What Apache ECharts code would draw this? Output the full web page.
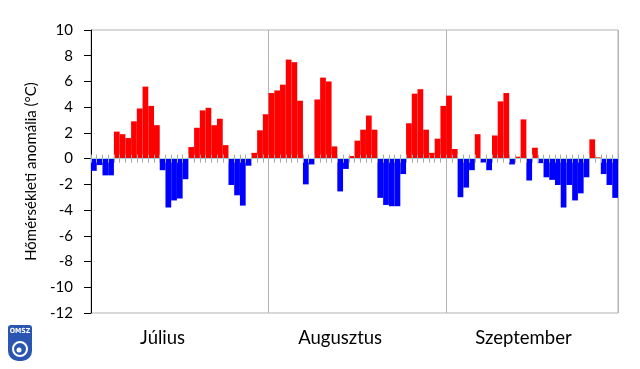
<!DOCTYPE html>
<html><head><meta charset="utf-8">
<script src="https://cdn.jsdelivr.net/npm/echarts@6/dist/echarts.min.js"></script>
<style>html,body{margin:0;padding:0;background:#fff}#c{width:640px;height:369px}</style>
</head><body><div id="c"></div>
<script>
// ---- data ----
const months = ['Július', 'Augusztus', 'Szeptember'];
const monthDays = [31, 31, 30];
const monthLabelDay = [12, 12, 13];          // day index within the month where the month name sits
const julyAnom = [-0.95, -0.5, -1.3, -1.3, 2.1, 1.9, 1.6, 2.9, 3.9, 5.6, 4.1, 2.6, -0.9, -3.8, -3.25, -3.1,
  -1.6, 0.9, 2.4, 3.75, 3.95, 2.6, 3.1, 1.05, -2.05, -2.85, -3.65, -0.55, 0.45, 2.2, 3.45];
const augAnom = [5.1, 5.3, 5.75, 7.7, 7.5, 4.5, -2.0, -0.45, 4.6, 6.3, 6.0, 0.95, -2.55, -0.8, 0.2, 1.4,
  2.25, 3.35, 2.25, -3.05, -3.6, -3.7, -3.7, -1.2, 2.75, 5.05, 5.4, 2.25, 0.45, 1.55, 4.1];
const sepAnom = [4.9, 0.75, -3.0, -2.25, -0.9, 1.9, -0.3, -0.9, 1.8, 4.45, 5.1, -0.45, 0.15, 3.05, -1.7,
  0.85, -0.35, -1.45, -1.65, -2.05, -3.8, -2.05, -3.25, -2.7, -1.45, 1.5, 0.1, -1.2, -2.05, -3.05];
const yMin = -12, yMax = 10, yStep = 2;
const yName = 'Hőmérsékleti anomália (°C)';
const logoText = 'OMSZ';

// ---- build ----
const monthData = [julyAnom, augAnom, sepAnom];
const categories = [];
const values = [];
const labelAt = {};
const monthStarts = [];
months.forEach((m, mi) => {
  monthStarts.push(categories.length);
  labelAt[categories.length + monthLabelDay[mi]] = m;
  for (let d = 0; d < monthDays[mi]; d++) {
    categories.push(m + ' ' + (d + 1));
    values.push(monthData[mi][d]);
  }
});
const RED = '#ff0000', BLUE = '#0000ff';
const FONT = 'Lato';

const chart = echarts.init(document.getElementById('c'), null, {renderer: 'canvas'});
chart.setOption({
  animation: false,
  backgroundColor: '#fff',
  textStyle: {fontFamily: FONT},
  grid: {left: 91, right: 22, top: 30, bottom: 56, show: true, borderColor: '#b3b3b3', borderWidth: 1},
  xAxis: [
    { // zero line with downward ticks
      type: 'category', data: categories, position: 'bottom', z: 5,
      axisLine: {onZero: true, onZeroAxisIndex: 0, lineStyle: {color: '#a9d3dc', width: 1}},
      axisTick: {show: true, interval: 0, length: 4, lineStyle: {color: '#a8a8a8'}},
      axisLabel: {show: false}, splitLine: {show: false}
    },
    { // upward ticks at zero
      type: 'category', data: categories, position: 'top', z: 5,
      axisLine: {show: true, onZero: true, onZeroAxisIndex: 0, lineStyle: {color: 'rgba(0,0,0,0)'}},
      axisTick: {show: true, interval: 0, length: 4, lineStyle: {color: '#a8a8a8'}},
      axisLabel: {show: false}, splitLine: {show: false}
    },
    { // month labels and separators
      type: 'category', data: categories, position: 'bottom',
      axisLine: {show: false, onZero: false}, axisTick: {show: false},
      axisLabel: {interval: 0, margin: 16, fontSize: 18.5, color: '#000', fontFamily: FONT,
        formatter: (v, i) => labelAt[i] || ''},
      splitLine: {show: true, interval: (i) => monthStarts.indexOf(i) > 0,
        lineStyle: {color: '#b3b3b3', width: 1}}
    }
  ],
  yAxis: [{
    type: 'value', min: yMin, max: yMax, interval: yStep,
    axisLine: {show: true, lineStyle: {color: '#000', width: 1}},
    axisTick: {show: true, length: 7, lineStyle: {color: '#000'}},
    axisLabel: {margin: 18, fontSize: 15, color: '#000', fontFamily: FONT},
    splitLine: {show: false},
    name: yName, nameLocation: 'middle', nameGap: 47,
    nameTextStyle: {fontSize: 15, color: '#000', fontFamily: FONT}
  }],
  series: [{
    type: 'bar', xAxisIndex: 0, yAxisIndex: 0, barWidth: '100%', z: 2,
    data: values.map(v => ({value: v, itemStyle: {color: v >= 0 ? RED : BLUE}}))
  }],
  graphic: [{
    type: 'group', left: 8, top: 325,
    children: [
      {type: 'rect', shape: {x: 0, y: 0, width: 24, height: 36, r: [3, 3, 10, 10]}, style: {fill: '#2a55b0'}},
      {type: 'text', style: {x: 12, y: 3, text: logoText, fill: '#fff', fontSize: 7, fontWeight: 'bold', align: 'center', fontFamily: 'DejaVu Sans Condensed'}},
      {type: 'circle', shape: {cx: 12, cy: 24, r: 7}, style: {fill: 'none', stroke: '#fff', lineWidth: 2}},
      {type: 'circle', shape: {cx: 11, cy: 25, r: 2.5}, style: {fill: '#fff'}}
    ]
  }]
});
</script></body></html>
